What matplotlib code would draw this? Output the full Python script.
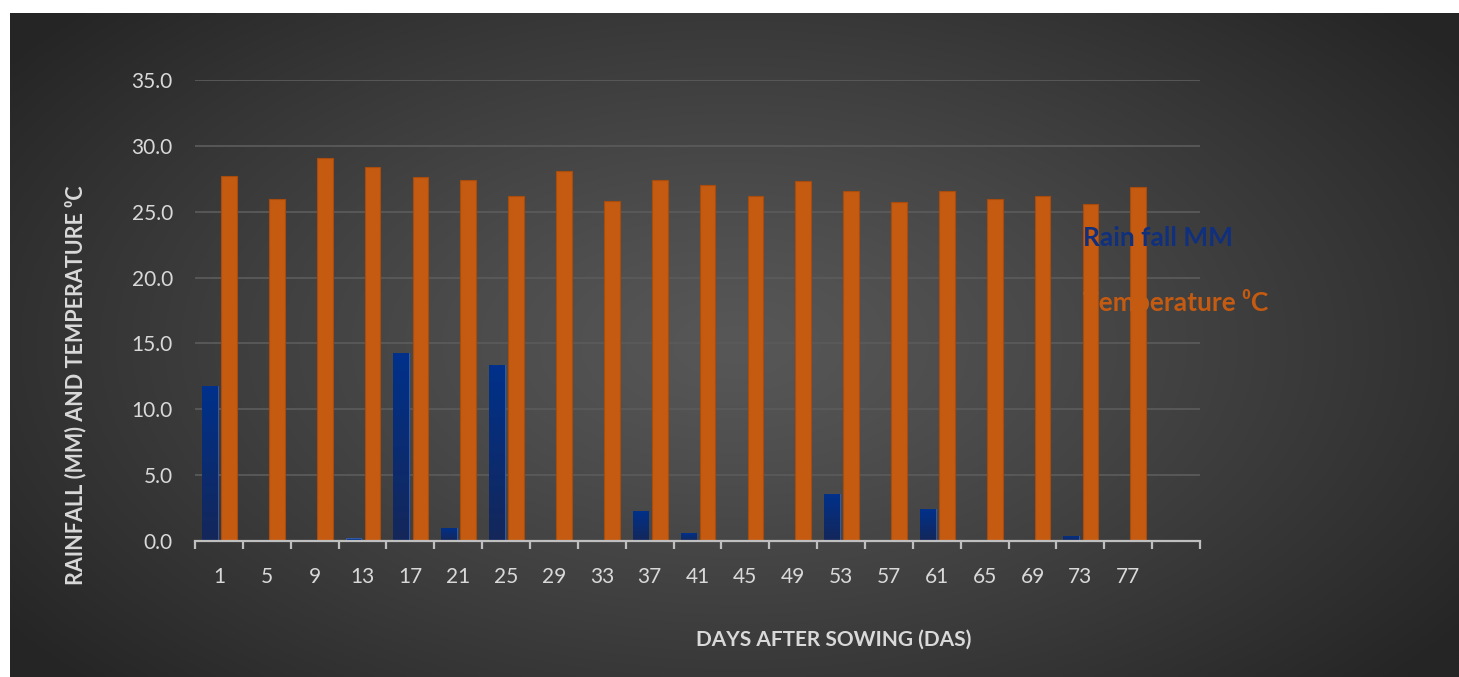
import numpy as np
import matplotlib
matplotlib.use('Agg')
import matplotlib.pyplot as plt
from matplotlib.colors import to_rgb

# data
days = ['1', '5', '9', '13', '17', '21', '25', '29', '33', '37',
        '41', '45', '49', '53', '57', '61', '65', '69', '73', '77']
rain = [11.8, 0.1, 0.1, 0.2, 14.3, 1.0, 13.4, 0.1, 0.1, 2.3,
        0.6, 0.0, 0.05, 3.6, 0.05, 2.4, 0.0, 0.1, 0.4, 0.1]
temp = [27.7, 26.0, 29.1, 28.4, 27.6, 27.4, 26.2, 28.1, 25.8, 27.4,
        27.0, 26.2, 27.3, 26.6, 25.7, 26.6, 26.0, 26.2, 25.6, 26.9]
labels = ['Rain fall MM', 'Temperature \u2070C']

FONT = ['Lato', 'DejaVu Sans']
plt.rcParams['font.family'] = FONT

W, H = 1459, 677
fig = plt.figure(figsize=(W / 100, H / 100), dpi=100)
fig.patch.set_facecolor('white')

# dark radial background panel
bg = fig.add_axes([10 / W, 0, 1 - 10 / W, 1 - 13 / H])
bg.axis('off')
yy, xx = np.mgrid[0:1:300j, 0:1:600j]
r = np.sqrt(((xx - 0.5) / 0.62) ** 2 + ((yy - 0.5) / 0.75) ** 2)
r = np.clip(r, 0, 1) ** 1.2
c_in = np.array(to_rgb('#575757'))
c_out = np.array(to_rgb('#252525'))
img = c_in[None, None, :] * (1 - r[..., None]) + c_out[None, None, :] * r[..., None]
bg.imshow(img, extent=[0, 1, 0, 1], aspect='auto', origin='lower')
bg.set_xlim(0, 1)
bg.set_ylim(0, 1)

ax = fig.add_axes([195 / W, 1 - 541 / H, 1005 / W, 461 / H])
ax.patch.set_alpha(0)

x = np.arange(len(days))
bw = 0.33
blue_top = '#00318b'
blue_bot = '#14275a'
orange = '#c55a11'

rb = ax.bar(x - 0.19, rain, width=bw, color=blue_top, edgecolor='#3a5fae',
            linewidth=0.6, zorder=3, label=labels[0])
tb = ax.bar(x + 0.21, temp, width=bw, color=orange, edgecolor='#a84c0e',
            linewidth=0.8, zorder=3, label=labels[1])

# vertical gradient on the rainfall bars
grad = np.linspace(0, 1, 100)[:, None, None]
ct = np.array(to_rgb(blue_top))
cb = np.array(to_rgb(blue_bot))
gimg = cb * (1 - grad) + ct * grad
for p, v in zip(rb.patches, rain):
    if v < 0.3:
        continue
    x0 = p.get_x()
    im = ax.imshow(gimg, extent=[x0, x0 + p.get_width(), 0, v], origin='lower',
                   aspect='auto', zorder=3.1)
    im.set_clip_path(p)

ax.set_xlim(-0.5, 20.5)
ax.set_ylim(0, 35)
ax.set_yticks(np.arange(0, 36, 5))
ax.set_yticklabels([f'{v:.1f}' for v in np.arange(0, 36, 5)])
ax.set_xticks(x)
ax.set_xticklabels(days)
ax.set_xticks(np.arange(-0.5, 21, 1), minor=True)

ax.grid(axis='y', color='#5a5a5a', linewidth=1.3, zorder=0)
ax.set_axisbelow(True)
for s in ['top', 'right', 'left']:
    ax.spines[s].set_visible(False)
ax.spines['bottom'].set_color('#bfbfbf')
ax.spines['bottom'].set_linewidth(1.6)
ax.spines['bottom'].set_zorder(4)

ax.tick_params(axis='y', length=0, pad=16, labelsize=15, labelcolor='#d9d9d9')
ax.tick_params(axis='x', which='major', length=0, pad=19, labelsize=15,
               labelcolor='#d9d9d9')
ax.tick_params(axis='x', which='minor', length=6, width=1.6, color='#bfbfbf')

ax.set_xlabel('DAYS AFTER SOWING (DAS)', fontsize=15, fontweight='bold',
              color='#d9d9d9')
ax.xaxis.set_label_coords((834 - 195) / 1005, (541 - 630) / 461)
ax.set_ylabel('RAINFALL (MM) AND TEMPERATURE \u2070C', fontsize=15.5,
              fontweight='bold', color='#d9d9d9')
ax.yaxis.set_label_coords((86 - 195) / 1005, (541 - 385) / 461)

leg = ax.legend(handles=[rb, tb], labels=labels, loc='upper left',
                bbox_to_anchor=(0.884, 0.684), frameon=False,
                handlelength=0, handletextpad=0, borderaxespad=0, borderpad=0,
                labelspacing=1.5, labelcolor=['#10307e', orange],
                prop={'family': FONT, 'weight': 'bold', 'size': 19})
for h in leg.legend_handles:
    h.set_visible(False)

fig.savefig('out.png', dpi=100, facecolor=fig.get_facecolor())
